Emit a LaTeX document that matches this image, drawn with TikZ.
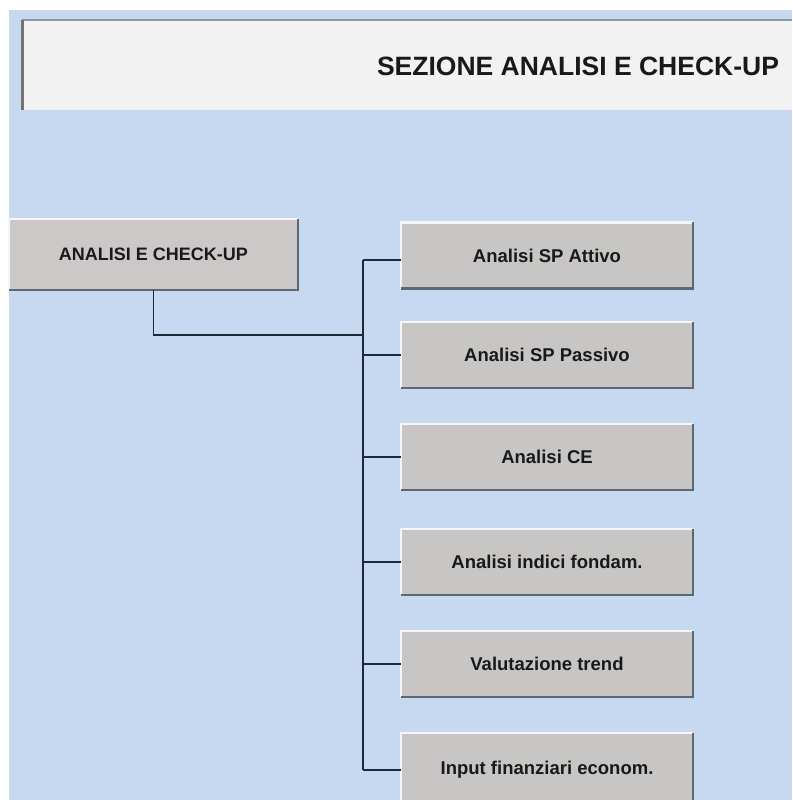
\documentclass[tikz,border=0pt]{standalone}
\usepackage{fontspec}
\setmainfont{Liberation Sans}
\definecolor{bgblue}{HTML}{C6D9F0}
\definecolor{hdrfill}{HTML}{F2F2F2}
\definecolor{boxfill}{HTML}{C8C6C4}
\definecolor{mainfill}{HTML}{CCC8C7}
\definecolor{darkedge}{HTML}{5E6874}
\definecolor{lightedge}{HTML}{F4F6F8}
\definecolor{conn}{HTML}{1E2836}
\tikzset{
  btn/.style={draw=none, fill=boxfill, minimum width=292pt, minimum height=66pt, inner sep=0pt, font=\fontsize{18.5}{20}\selectfont\bfseries, text=black!90},
  mainbtn/.style={btn, fill=mainfill, minimum width=289pt, minimum height=71pt, font=\fontsize{18}{19}\selectfont\bfseries},
  hiedge/.style={draw=lightedge, line width=2.5pt},
  loedge/.style={draw=darkedge, line width=2.5pt},
  link/.style={draw=conn, line width=1.6pt}
}
\begin{document}
\begin{tikzpicture}[x=1pt,y=-1pt]
\useasboundingbox (0,0) rectangle (792,800);
\clip (0,0) rectangle (792,800);
\fill[white] (0,0) rectangle (792,800);
\fill[bgblue] (9,10) rectangle (792,800);
% header
\fill[hdrfill] (22,20) rectangle (792,110);
\draw[draw=darkedge!70, line width=2.5pt] (22,20) -- (792,20);
\draw[draw=gray!90!black, line width=3pt] (22,20) -- (22,110);
\node[font=\fontsize{26.5}{28}\selectfont\bfseries, text=black!90] (title) at (578,66) {SEZIONE ANALISI E CHECK-UP};
% main box
\node[mainbtn] (main) at (153.5,254.5) {ANALISI E CHECK-UP};
% child boxes
\node[btn] (b1) at (547,255.5) {Analisi SP Attivo};
\node[btn] (b2) at (547,355) {Analisi SP Passivo};
\node[btn] (b3) at (547,457) {Analisi CE};
\node[btn] (b4) at (547,562) {Analisi indici fondam.};
\node[btn] (b5) at (547,664) {Valutazione trend};
\node[btn, minimum height=74pt] (b6) at (547,770) {Input finanziari econom.};
% bevel edges
\foreach \n in {main,b1,b2,b3,b4,b5,b6}{
  \draw[hiedge] (\n.south west) -- (\n.north west) -- (\n.north east);
  \draw[loedge] (\n.north east) -- (\n.south east) -- (\n.south west);
}
% connectors
\coordinate (t) at (363,335);
\coordinate (tt) at (363,260);
\draw[link] (main.south) |- (t);
\draw[link] (tt) -- (t |- b6.west);
\draw[link] (tt) -- (tt -| b1.west);
\draw[link] (t |- b2.west) -- (b2.west);
\draw[link] (t |- b3.west) -- (b3.west);
\draw[link] (t |- b4.west) -- (b4.west);
\draw[link] (t |- b5.west) -- (b5.west);
\draw[link] (t |- b6.west) -- (b6.west);
\end{tikzpicture}
\end{document}
